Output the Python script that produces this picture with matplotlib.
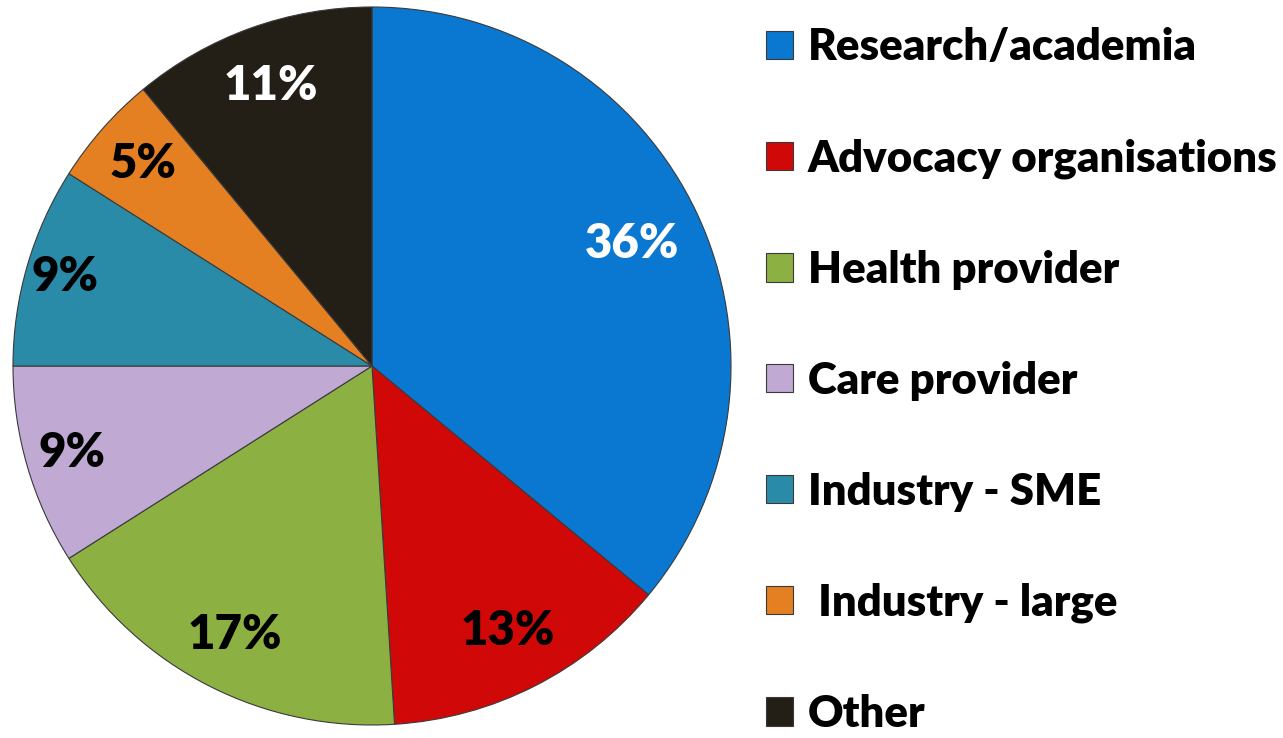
import matplotlib.pyplot as plt

categories = ["Research/academia", "Advocacy organisations", "Health provider",
              "Care provider", "Industry - SME", " Industry - large", "Other"]
shares = [36, 13, 17, 9, 9, 5, 11]
colors = ["#0A78D0", "#D00808", "#8DB043", "#C0A9D3", "#2A8BA8", "#E47F22", "#231F17"]
pct_colors = ["white", "black", "black", "black", "black", "black", "white"]
# how far out each percent label sits, as a share of the radius
pct_radius = [0.80, 0.83, 0.84, 0.87, 0.89, 0.85, 0.83]

plt.rcParams['font.family'] = ['Lato', 'DejaVu Sans']

fig = plt.figure(figsize=(12.83, 7.38), dpi=100)
# pie axes placed in pixels: centre (372, 366), radius ~359
ax = fig.add_axes([13 / 1283, 13 / 738, 718 / 1283, 718 / 738])

wedges, texts, autotexts = ax.pie(
    shares, colors=colors, startangle=90, counterclock=False,
    autopct="%d%%", pctdistance=1.0, radius=1.0,
    wedgeprops={"edgecolor": "#3a3a3a", "linewidth": 0.8},
    textprops={"fontsize": 34, "fontweight": "heavy"})
for t, c, r in zip(autotexts, pct_colors, pct_radius):
    t.set_color(c)
    x, y = t.get_position()
    t.set_position((x * r, y * r))
ax.set_xlim(-1.0, 1.0)
ax.set_ylim(-1.0, 1.0)
ax.set_aspect("equal")

leg = fig.legend(wedges, categories, loc="upper left",
                 bbox_to_anchor=(748 / 1283, 1.0 - 10 / 738),
                 frameon=False, prop={"size": 31.5, "weight": "heavy"},
                 handlelength=0.62, handleheight=0.62, handletextpad=0.35,
                 labelspacing=1.62, borderaxespad=0)

fig.savefig("out.png", dpi=100, facecolor="white")
